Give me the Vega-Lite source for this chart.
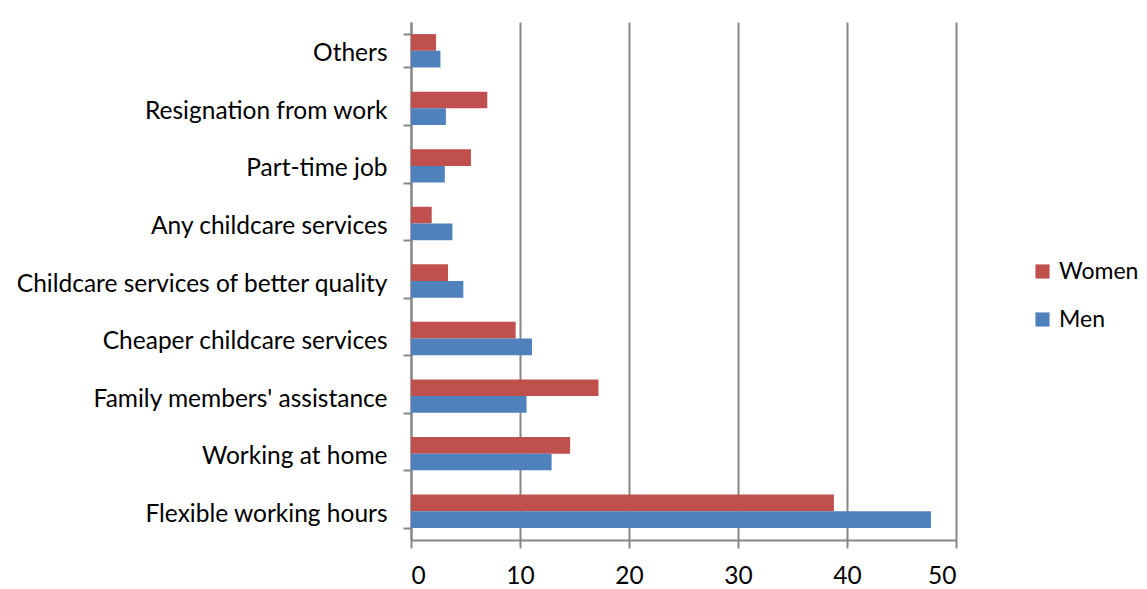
{
  "$schema": "https://vega.github.io/schema/vega-lite/v6.json",
  "autosize": {"type": "none"},
  "padding": {"left": 411, "top": 22, "right": 191, "bottom": 49},
  "width": 545,
  "height": 518,
  "background": "white",
  "data": {"values": [
    {"reason": "Others", "sex": "Women", "value": 2.3},
    {"reason": "Others", "sex": "Men", "value": 2.7},
    {"reason": "Resignation from work", "sex": "Women", "value": 7.0},
    {"reason": "Resignation from work", "sex": "Men", "value": 3.2},
    {"reason": "Part-time job", "sex": "Women", "value": 5.5},
    {"reason": "Part-time job", "sex": "Men", "value": 3.1},
    {"reason": "Any childcare services", "sex": "Women", "value": 1.9},
    {"reason": "Any childcare services", "sex": "Men", "value": 3.8},
    {"reason": "Childcare services of better quality", "sex": "Women", "value": 3.4},
    {"reason": "Childcare services of better quality", "sex": "Men", "value": 4.8},
    {"reason": "Cheaper childcare services", "sex": "Women", "value": 9.6},
    {"reason": "Cheaper childcare services", "sex": "Men", "value": 11.1},
    {"reason": "Family members' assistance", "sex": "Women", "value": 17.2},
    {"reason": "Family members' assistance", "sex": "Men", "value": 10.6},
    {"reason": "Working at home", "sex": "Women", "value": 14.6},
    {"reason": "Working at home", "sex": "Men", "value": 12.9},
    {"reason": "Flexible working hours", "sex": "Women", "value": 38.8},
    {"reason": "Flexible working hours", "sex": "Men", "value": 47.7}
  ]},
  "mark": {"type": "bar"},
  "encoding": {
    "y": {
      "field": "reason", "type": "nominal",
      "sort": ["Others", "Resignation from work", "Part-time job", "Any childcare services", "Childcare services of better quality", "Cheaper childcare services", "Family members' assistance", "Working at home", "Flexible working hours"],
      "scale": {"paddingInner": 0.42, "paddingOuter": 0.21},
      "axis": {
        "title": null,
        "labelFont": "Lato", "labelFontSize": 24.5, "labelColor": "#000000",
        "labelPadding": 16, "labelLimit": 420, "labelOffset": 3,
        "domainColor": "#868686", "domainWidth": 2,
        "ticks": true, "tickBand": "extent", "tickColor": "#868686", "tickWidth": 2, "tickSize": 8
      }
    },
    "yOffset": {"field": "sex", "type": "nominal", "scale": {"domain": ["Women", "Men"], "paddingInner": 0, "paddingOuter": 0}},
    "x": {
      "field": "value", "type": "quantitative",
      "scale": {"domain": [0, 50], "nice": false},
      "axis": {
        "title": null, "values": [0, 10, 20, 30, 40, 50],
        "labelFont": "Lato", "labelFontSize": 24.5, "labelColor": "#000000",
        "labelPadding": 16,
        "domainColor": "#868686", "domainWidth": 2,
        "tickColor": "#868686", "tickWidth": 2, "tickSize": 8,
        "grid": true, "gridColor": "#868686", "gridWidth": 2
      }
    },
    "color": {
      "field": "sex", "type": "nominal",
      "scale": {"domain": ["Women", "Men"], "range": ["#C0504D", "#4F81BD"]},
      "legend": {
        "title": null, "orient": "none", "legendX": 620, "legendY": 238,
        "symbolType": "square", "symbolSize": 200, "symbolStrokeWidth": 0,
        "labelFont": "Lato", "labelFontSize": 23, "labelColor": "#000000",
        "rowPadding": 24, "labelOffset": 5
      }
    }
  },
  "config": {"view": {"stroke": null}}
}
